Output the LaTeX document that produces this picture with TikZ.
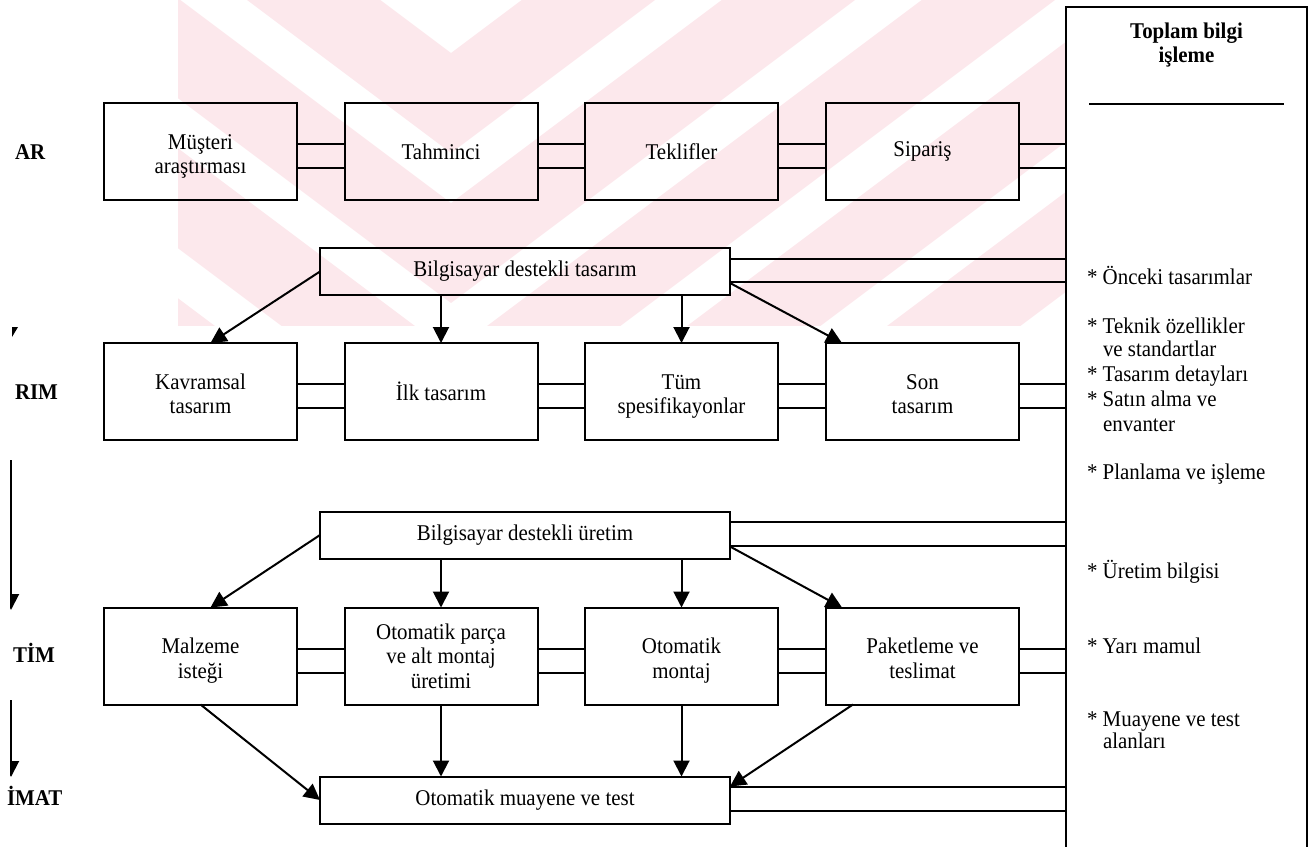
\documentclass[tikz,border=0pt]{standalone}
\usepackage{fontspec}
\setmainfont{Liberation Serif}[FakeStretch=0.93]
\usetikzlibrary{arrows.meta,calc}
\definecolor{wmpink}{RGB}{252,232,236}
% two centred lines with fixed top and bottom clearance
\newcommand\boxpair[2]{\rule{0pt}{24.5pt}#1\\#2\rule[-5pt]{0pt}{5pt}}
\begin{document}
\begin{tikzpicture}[x=1pt,y=-1pt,
  every node/.style={font=\fontsize{22.5}{24.5}\selectfont, inner sep=0pt, outer sep=0pt},
  stage/.style={draw, line width=2pt, minimum width=193pt, minimum height=97pt, align=center},
  wide/.style={draw, line width=2pt, minimum width=410pt, minimum height=47pt},
  link/.style={line width=2pt},
  flow/.style={line width=2pt, -{Triangle[length=16pt,width=16pt]}},
  side/.style={font=\bfseries\fontsize{22.5}{24.5}\selectfont, anchor=base west},
  item/.style={anchor=base west},
]
\useasboundingbox (0,0) rectangle (1314,846);

% faint chevron watermark behind the chart
\begin{scope}
  \clip (178,0) rectangle (1066,325);
  \foreach \f in {53,203,...,953} {
    \fill[wmpink] (-1049,\f-1125) -- (451,\f) -- (1951,\f-1125)
      -- (1951,\f-1025) -- (451,\f+100) -- (-1049,\f-1025) -- cycle;
  }
\end{scope}

% stage labels along the left margin
\node[side] (lab1) at (15,159) {AR};
\node[side] (lab2) at (15,399) {RIM};
\node[side] (lab3) at (13,662) {TİM};
\node[side] (lab4) at (7,805) {İMAT};

\coordinate (d1s) at (11,460);
\coordinate (d1e) at (11,610);
\coordinate (d2s) at (11,700);
\coordinate (d2e) at (11,777);
\begin{scope}
  \clip (10,0) rectangle (40,846);
  \draw[flow] (d1s) -- (d1e);
  \draw[flow] (d2s) -- (d2e);
\end{scope}
\fill (12,327) -- (18,327) -- (12,337) -- cycle;

% process boxes
\node[stage] (a1) at (200.5,151.5) {\boxpair{Müşteri}{araştırması}};
\node[stage] (a2) at (441,151.5) {Tahminci};
\node[stage] (a3) at (681.5,151.5) {Teklifler};
\node[stage] (a4) at (922.5,151.5) {Sipariş};

\node[wide] (cad) at (525,271.5) {Bilgisayar destekli tasarım};

\node[stage] (b1) at (200.5,391.5) {\boxpair{Kavramsal}{tasarım}};
\node[stage] (b2) at (441,391.5) {İlk tasarım};
\node[stage] (b3) at (681.5,391.5) {\boxpair{Tüm}{spesifikayonlar}};
\node[stage] (b4) at (922.5,391.5) {\boxpair{Son}{tasarım}};

\node[wide] (cam) at (525,535) {Bilgisayar destekli üretim};

\node[stage] (c1) at (200.5,656) {\boxpair{Malzeme}{isteği}};
\node[stage] (c2) at (441,656) {Otomatik parça\\ve alt montaj\\üretimi};
\node[stage] (c3) at (681.5,656) {\boxpair{Otomatik}{montaj}};
\node[stage] (c4) at (922.5,656) {\boxpair{Paketleme ve}{teslimat}};

\node[wide] (qc) at (525,800) {Otomatik muayene ve test};

% information panel on the right (open at the bottom)
\node[minimum width=241pt, minimum height=850pt, anchor=north west] (panel) at (1066,7) {};
\draw[link] (panel.south west) -- (panel.north west) -- (panel.north east) -- (panel.south east);
\node[font=\bfseries\fontsize{22.5}{24}\selectfont, align=center] (ttl) at (1186.5,45) {Toplam bilgi\\işleme};
\coordinate (rl) at (1089,104);
\coordinate (rr) at (1284,104);
\draw[link] (rl) -- (rr);

\node[item] (i1) at (1087,284) {* Önceki tasarımlar};
\node[item] (i2) at (1087,333) {* Teknik özellikler};
\node[item] (i2b) at (1103,356) {ve standartlar};
\node[item] (i3) at (1087,381) {* Tasarım detayları};
\node[item] (i4) at (1087,406) {* Satın alma ve};
\node[item] (i4b) at (1103,431) {envanter};
\node[item] (i5) at (1087,479) {* Planlama ve işleme};
\node[item] (i6) at (1087,578) {* Üretim bilgisi};
\node[item] (i7) at (1087,653) {* Yarı mamul};
\node[item] (i8) at (1087,726) {* Muayene ve test};
\node[item] (i8b) at (1103,748) {alanları};

% double links between neighbouring boxes
\foreach \u/\v in {a1/a2,a2/a3,a3/a4,b1/b2,b2/b3,b3/b4,c1/c2,c2/c3,c3/c4} {
  \draw[link] ($(\u.north east)+(0,41)$) -- ($(\v.north west)+(0,41)$);
  \draw[link] ($(\u.north east)+(0,65)$) -- ($(\v.north west)+(0,65)$);
}
% double links into the panel
\foreach \u/\d/\e in {a4/41/65,b4/41/65,c4/41/65,cad/10.5/34,cam/10.5/34,qc/10.5/34} {
  \coordinate (p) at ($(\u.north east)+(0,\d)$);
  \coordinate (q) at ($(\u.north east)+(0,\e)$);
  \draw[link] (p) -- (p -| panel.west);
  \draw[link] (q) -- (q -| panel.west);
}

% design fan-out
\draw[flow] (cad.west) -- ($(b1.north)+(10,0)$);
\draw[flow] (cad.south -| b2.north) -- (b2.north);
\draw[flow] (cad.south -| b3.north) -- (b3.north);
\draw[flow] ($(cad.south east)+(0,-12)$) -- ($(b4.north west)+(16,0)$);

% manufacturing fan-out
\draw[flow] (cam.west) -- ($(c1.north)+(10,0)$);
\draw[flow] (cam.south -| c2.north) -- (c2.north);
\draw[flow] (cam.south -| c3.north) -- (c3.north);
\draw[flow] ($(cam.south east)+(0,-12)$) -- ($(c4.north west)+(16,0)$);

% into inspection and test
\draw[flow] (c1.south) -- (qc.west);
\draw[flow] (c2.south) -- (c2.south |- qc.north);
\draw[flow] (c3.south) -- (c3.south |- qc.north);
\draw[flow] ($(c4.south west)+(27,0)$) -- ($(qc.north east)+(0,10)$);
\end{tikzpicture}
\end{document}
